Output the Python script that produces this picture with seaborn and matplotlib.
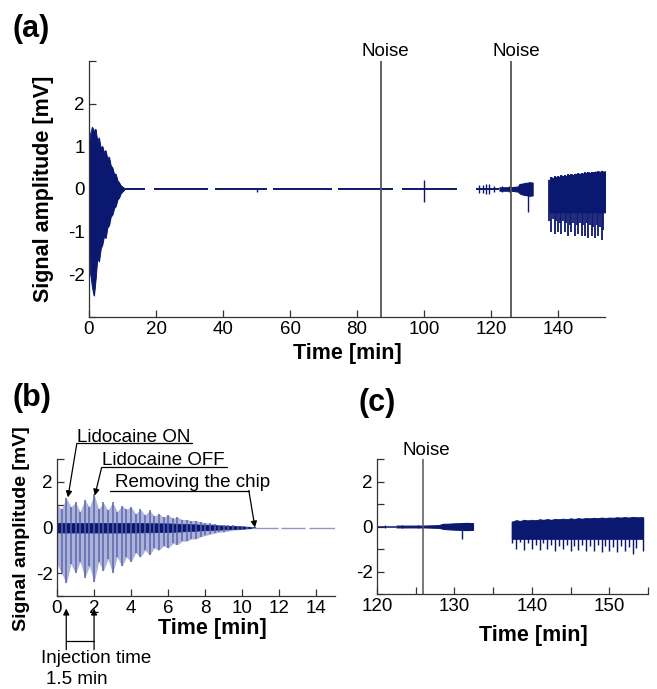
import numpy as np
import pandas as pd
import matplotlib
matplotlib.use("Agg")
import matplotlib.pyplot as plt
import seaborn as sns

# ---------------- data ----------------
# Panel (a)/(c): long recording, envelope of the signal [mV] vs time [min]
burst_t = [0, 0.5, 1, 1.5, 2, 2.5, 3, 3.5, 4, 4.5, 5, 5.5, 6, 6.5, 7, 7.5, 8, 8.5, 9, 9.5, 10, 10.5]
burst_hi = [1.1, 1.3, 1.45, 1.35, 1.4, 1.1, 1.2, 0.95, 1.0, 0.85, 0.9, 0.7, 0.75, 0.55, 0.5, 0.35,
            0.35, 0.2, 0.15, 0.08, 0.05, 0.02]
burst_lo = [-1.5, -2.0, -2.3, -2.5, -2.1, -1.6, -1.7, -1.4, -1.3, -1.1, -1.15, -0.9, -0.85, -0.65,
            -0.6, -0.45, -0.4, -0.25, -0.2, -0.1, -0.06, -0.02]

seg_start = [10.5, 19.4, 37.6, 55.0, 74.3, 93.4, 115.5]
seg_end = [16.7, 35.5, 53.1, 72.5, 90.7, 109.9, 122.5]
seg_level = [0, 0, 0, 0, 0, 0, 0]

spike_t = [50.0, 100.0, 116.5, 117.5, 118.5, 119.5, 121.0, 123.2, 125.3, 131.0]
spike_hi = [0.03, 0.2, 0.1, 0.1, 0.12, 0.12, 0.06, 0.06, 0.06, 0.15]
spike_lo = [-0.08, -0.3, -0.1, -0.1, -0.12, -0.12, -0.06, -0.06, -0.06, -0.55]

grow_t = [122.5, 124, 126, 127, 128, 128.5, 129, 130, 131, 131.5, 132.4]
grow_hi = [0.04, 0.04, 0.04, 0.05, 0.06, 0.12, 0.12, 0.14, 0.15, 0.16, 0.15]
grow_lo = [-0.04, -0.04, -0.04, -0.05, -0.06, -0.1, -0.12, -0.14, -0.15, -0.16, -0.15]

block_t = [137.4, 138.0, 138.5, 139.0, 139.5, 140.0, 140.5, 141.0, 141.5, 142.0, 142.5, 143.0,
           143.5, 144.0, 144.5, 145.0, 145.5, 146.0, 146.5, 147.0, 147.5, 148.0, 148.5, 149.0,
           149.5, 150.0, 150.5, 151.0, 151.5, 152.0, 152.5, 153.0, 153.5, 154.3]
block_hi = [0.22, 0.28, 0.25, 0.3, 0.27, 0.3, 0.28, 0.32, 0.3, 0.33, 0.3, 0.34, 0.32, 0.35, 0.33,
            0.36, 0.34, 0.37, 0.35, 0.38, 0.36, 0.39, 0.37, 0.4, 0.38, 0.4, 0.39, 0.41, 0.4, 0.42,
            0.4, 0.43, 0.41, 0.42]
block_lo = [-0.75, -1.0, -0.7, -1.05, -0.75, -1.0, -0.8, -1.05, -0.75, -1.0, -0.8, -1.1, -0.85,
            -1.0, -0.8, -1.1, -0.85, -1.05, -0.8, -1.1, -0.85, -1.1, -0.8, -1.15, -0.85, -1.1,
            -0.9, -1.15, -0.85, -1.1, -0.9, -1.2, -0.95, -1.1]
block_core = -0.55

noise_a = [87.0, 126.0]
noise_c = [126.0]

# Panel (b): first 15 min, individual spikes and dense core band
b_t = [0, 0.25, 0.5, 0.75, 1, 1.25, 1.5, 1.75, 2, 2.25, 2.5, 2.75, 3, 3.25, 3.5, 3.75, 4, 4.25,
       4.5, 4.75, 5, 5.25, 5.5, 5.75, 6, 6.25, 6.5, 6.75, 7, 7.25, 7.5, 7.75, 8, 8.25, 8.5, 8.75,
       9, 9.25, 9.5, 9.75, 10, 10.25, 10.5]
b_hi = [1.0, 0.8, 1.3, 0.9, 1.1, 0.7, 1.2, 0.9, 1.45, 0.8, 1.1, 0.75, 1.1, 0.7, 0.95, 0.8, 0.9,
        0.6, 0.8, 0.55, 0.75, 0.5, 0.6, 0.45, 0.55, 0.4, 0.45, 0.35, 0.35, 0.3, 0.3, 0.25, 0.2,
        0.18, 0.15, 0.12, 0.12, 0.1, 0.1, 0.07, 0.05, 0.04, 0.02]
b_lo = [-1.6, -2.0, -2.45, -1.6, -2.0, -1.5, -2.2, -1.7, -2.4, -1.5, -1.9, -1.4, -2.0, -1.3, -1.7,
        -1.3, -1.5, -1.1, -1.3, -1.0, -1.2, -0.9, -1.0, -0.8, -0.9, -0.7, -0.75, -0.6, -0.6, -0.5,
        -0.5, -0.4, -0.35, -0.3, -0.25, -0.2, -0.2, -0.15, -0.12, -0.1, -0.08, -0.05, -0.02]
core_t = [0, 2, 4, 6, 7, 8, 9, 10, 10.7]
core_hi = [0.2, 0.2, 0.2, 0.18, 0.15, 0.12, 0.08, 0.05, 0.02]
core_lo = [-0.22, -0.22, -0.22, -0.2, -0.16, -0.12, -0.08, -0.05, -0.02]
b_base_start = [10.5, 12.1, 13.6]
b_base_end = [11.9, 13.4, 15.0]
b_base_level = [0, 0, 0]

inj_on, inj_off = 0.5, 2.0

NAVY = "#0b1870"
LIGHT = "#5a64ae"
PALE = "#aeb3da"
GRAY = "#555555"

# ---------------- style ----------------
sns.set_theme(style="ticks")
plt.rcParams["font.family"] = ["Liberation Sans", "DejaVu Sans"]
plt.rcParams.update({
    "axes.edgecolor": "#222222",
    "axes.linewidth": 0.9,
    "xtick.direction": "in",
    "ytick.direction": "in",
    "xtick.color": "#222222",
    "ytick.color": "#222222",
    "text.color": "black",
    "axes.labelcolor": "black",
})

W, H = 657, 689
fig = plt.figure(figsize=(W / 100, H / 100), dpi=100)


def px_axes(l, t, r, b):
    return fig.add_axes([l / W, 1 - b / H, (r - l) / W, (b - t) / H])


ax_a = px_axes(89, 61, 605, 317)
ax_b = px_axes(57, 459, 335, 596)
ax_c = px_axes(377, 459, 648, 594)

TICK_FS = 13.5
LAB_FS = 15.5


def style_axis(ax):
    sns.despine(ax=ax)
    ax.tick_params(direction="in", length=5, width=0.9, labelsize=TICK_FS, pad=3,
                   color="#333333", labelcolor="black")
    for s in ("left", "bottom"):
        ax.spines[s].set_color("#333333")
        ax.spines[s].set_zorder(5)


def draw_long(ax, lw_scale=1.0):
    df_burst = pd.DataFrame({"t": burst_t, "hi": burst_hi, "lo": burst_lo})
    ax.fill_between(df_burst["t"], df_burst["lo"], df_burst["hi"], color=NAVY, lw=0.6)
    sns.lineplot(data=df_burst, x="t", y="hi", ax=ax, color=NAVY, lw=0.6)
    sns.lineplot(data=df_burst, x="t", y="lo", ax=ax, color=NAVY, lw=0.6)
    ax.hlines(seg_level, seg_start, seg_end, color=NAVY, lw=1.4 * lw_scale)
    ax.vlines(spike_t, spike_lo, spike_hi, color=NAVY, lw=1.0)
    ax.fill_between(grow_t, grow_lo, grow_hi, color=NAVY, lw=0.8)
    ax.vlines(block_t, block_lo, block_hi, color=NAVY, lw=1.3 * lw_scale)
    ax.fill_between(block_t, block_core, block_hi, color=NAVY, lw=0.6)


# ---------------- (a) ----------------
draw_long(ax_a)
ax_a.set_xlim(0, 154)
ax_a.set_ylim(-3, 3)
ax_a.set_xticks(np.arange(0, 141, 20))
ax_a.set_yticks(np.arange(-3, 4, 1))
ax_a.set_yticklabels(["", "-2", "-1", "0", "1", "2", ""])
for t in noise_a:
    ax_a.axvline(t, color=GRAY, lw=1.3)
    ax_a.annotate("Noise", xy=(t, 1), xycoords=("data", "axes fraction"), xytext=(3.5, 1),
                  textcoords="offset points", ha="center", va="bottom", fontsize=13.5)
style_axis(ax_a)
ax_a.set_xlabel("Time [min]", fontsize=LAB_FS, fontweight="bold", va="center")
ax_a.set_ylabel("Signal amplitude [mV]", fontsize=LAB_FS, fontweight="bold", va="center")
ax_a.xaxis.set_label_coords(0.5, -0.141)
ax_a.yaxis.set_label_coords(-0.089, 0.5)

# ---------------- (b) ----------------
ax_b.fill_between(b_t, b_lo, b_hi, color=PALE, lw=0)
ax_b.vlines(b_t, b_lo, b_hi, color=LIGHT, lw=1.2, alpha=0.9)
ax_b.fill_between(core_t, core_lo, core_hi, color=NAVY, lw=0.5)
ax_b.hlines(b_base_level, b_base_start, b_base_end, color="#8f96c8", lw=1.0)
ax_b.set_xlim(0, 15)
ax_b.set_ylim(-3, 3)
ax_b.set_xticks(np.arange(0, 15, 2))
ax_b.set_yticks(np.arange(-3, 4, 1))
ax_b.set_yticklabels(["", "-2", "", "0", "", "2", ""])
style_axis(ax_b)
ax_b.set_xlabel("Time [min]", fontsize=LAB_FS, fontweight="bold", va="center")
ax_b.set_ylabel("Signal amplitude [mV]", fontsize=14, fontweight="bold", va="center")
ax_b.xaxis.set_label_coords(0.558, -0.234)
ax_b.yaxis.set_label_coords(-0.126, 0.49)

ANN_FS = 13.5
arrow_kw = dict(arrowstyle="-|>", color="black", lw=0.9, mutation_scale=9, shrinkA=0, shrinkB=0)


def callout(ax, text, tx, ty, ul_y, ul_x0, ul_x1, start, tip):
    ax.text(tx, ty, text, ha="left", va="center", fontsize=ANN_FS, clip_on=False)
    ax.plot([ul_x0, ul_x1], [ul_y, ul_y], color="black", lw=0.9, clip_on=False)
    ax.annotate("", xy=tip, xytext=start, xycoords="data", arrowprops=arrow_kw,
                annotation_clip=False)


callout(ax_b, "Lidocaine ON", 1.07, 3.95, 3.68, 1.07, 7.3, (1.07, 3.68), (0.59, 1.32))
callout(ax_b, "Lidocaine OFF", 2.41, 2.94, 2.63, 2.41, 9.17, (2.41, 2.63), (2.04, 1.40))
callout(ax_b, "Removing the chip", 3.11, 1.97, 1.62, 2.84, 10.35, (10.35, 1.62), (10.68, 0.0))

# injection time bracket below the axis
for t in (inj_on, inj_off):
    ax_b.annotate("", xy=(t, -3.55), xytext=(t, -5.35), arrowprops=arrow_kw, annotation_clip=False)
ax_b.plot([inj_on, inj_off], [-4.95, -4.95], color="black", lw=0.9, clip_on=False)
ax_b.text(2.09, -5.75, "Injection time", ha="center", va="center", fontsize=ANN_FS, clip_on=False)
ax_b.text(1.07, -6.65, "1.5 min", ha="center", va="center", fontsize=ANN_FS, clip_on=False)

# ---------------- (c) ----------------
draw_long(ax_c, lw_scale=0.8)
ax_c.set_xlim(120, 155)
ax_c.set_ylim(-3, 3)
ax_c.set_xticks(np.arange(120, 156, 5))
ax_c.set_xticklabels(["120", "", "130", "", "140", "", "150", ""])
ax_c.set_yticks(np.arange(-3, 4, 1))
ax_c.set_yticklabels(["", "-2", "", "0", "", "2", ""])
for t in noise_c:
    ax_c.axvline(t, color=GRAY, lw=1.1)
    ax_c.annotate("Noise", xy=(t, 1), xycoords=("data", "axes fraction"), xytext=(2, 0),
                  textcoords="offset points", ha="center", va="bottom", fontsize=13.5)
style_axis(ax_c)
ax_c.set_ylabel("")
ax_c.set_xlabel("Time [min]", fontsize=LAB_FS, fontweight="bold", va="center")
ax_c.xaxis.set_label_coords(0.576, -0.304)

# ---------------- panel letters ----------------
fig.text(13 / W, 1 - 29 / H, "(a)", fontsize=22, fontweight="bold", va="center", ha="left")
fig.text(12 / W, 1 - 398 / H, "(b)", fontsize=22, fontweight="bold", va="center", ha="left")
fig.text(358 / W, 1 - 403 / H, "(c)", fontsize=22, fontweight="bold", va="center", ha="left")

fig.savefig("out.png", dpi=100, facecolor="white")
